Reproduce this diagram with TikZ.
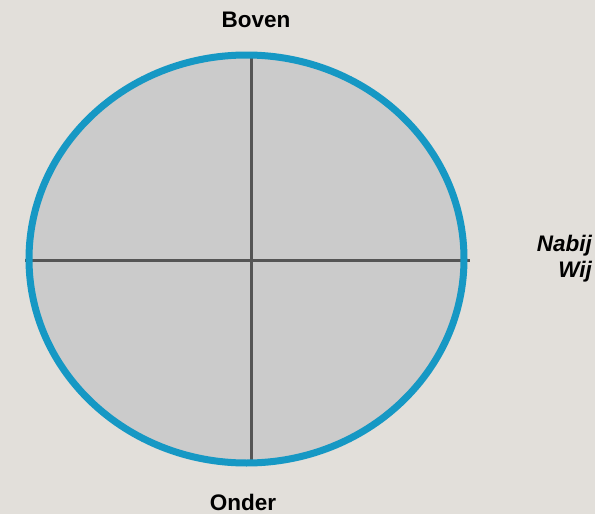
\documentclass[tikz,border=0pt]{standalone}
\usepackage{fontspec}
\setmainfont{Liberation Sans}
\definecolor{bggray}{RGB}{226, 223, 218}
\definecolor{discgray}{RGB}{203, 203, 203}
\definecolor{ringblue}{RGB}{22, 152, 196}
\definecolor{axisgray}{RGB}{85, 85, 85}

\begin{document}
\begin{tikzpicture}[
    x=1pt, y=-1pt,
    axisline/.style={draw=axisgray, line width=3pt},
    pole/.style={font=\fontsize{22.5}{26}\selectfont\bfseries, text=black, inner sep=0pt}
]
% background and size
\fill[bggray] (0,0) rectangle (595,514);
\useasboundingbox (0,0) rectangle (595,514);

% disc
\fill[discgray] (246.5,259) ellipse [x radius=217.5, y radius=204];

% named ends of the axes
\coordinate (top) at (251,55);
\coordinate (bottom) at (251,463);
\coordinate (left) at (25,260);
\coordinate (right) at (470,260);

\draw[axisline] (top) -- (bottom);
\draw[axisline] (left) -- (right);

% ring
\draw[ringblue, line width=7pt] (246.5,259) ellipse [x radius=217.5, y radius=204];

% labels
\node[pole] (boven) at (256,20) {Boven};
\node[pole] (onder) at (243,502) {Onder};
\node[pole, font=\fontsize{22.5}{26}\selectfont\bfseries\itshape, align=right, anchor=east] (nabij) at (592,259) {Nabij\\Wij};
\end{tikzpicture}
\end{document}
